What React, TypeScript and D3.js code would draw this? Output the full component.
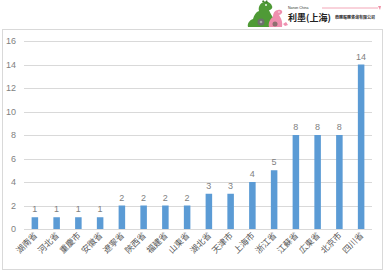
import React from "react";
import * as d3 from "d3";

const categories = ["湖南省","河北省","重慶市","安徽省","遼寧省","陝西省","福建省","山東省","湖北省","天津市","上海市","浙江省","江蘇省","広東省","北京市","四川省"];
const values = [1,1,1,1,2,2,2,2,3,3,4,5,8,8,8,14];
const yTicks = [0,2,4,6,8,10,12,14,16];

const W = 384, H = 271;
const plot = { left: 24, right: 372, top: 41, bottom: 229 };

export default function App() {
  const x = d3.scaleBand<string>().domain(categories).range([plot.left, plot.right]).paddingInner(0.7).paddingOuter(0.35);
  const y = d3.scaleLinear().domain([0, 16]).range([plot.bottom, plot.top]);
  const font = "'Noto Sans CJK JP', 'Noto Sans', sans-serif";
  return (
    <svg width={W} height={H} style={{ position: "absolute", left: 0, top: 0, background: "#fff" }}>
      <rect x={0} y={0} width={W} height={H} fill="#fff" />
      {/* logo */}
      <g>
        {/* green dino */}
        <path d="M248,27 C247,23 250,20 253,19 C254,15 256,12 259,11 C258,7 260,3 264,2 C268,1 271,3 272,6 C273,8 271,10 269,10 C270,13 272,16 274,19 C276,22 276,25 274,27 Z" fill="#4f9a36" />
        <path d="M262,2 L263,0 L265,2 L267,0 L268,3 Z" fill="#3e7f2a" />
        <circle cx={266} cy={5} r={0.9} fill="#fff" />
        <ellipse cx={261} cy={22} rx={3.5} ry={3.5} fill="#6e6e6e" />
        <circle cx={261} cy={22} r={1.3} fill="#aaa" />
        {/* pink dino */}
        <path d="M269,27 C268,23 270,19 273,17 C273,13 275,10 278,10 C281,9 283,11 282,13 C281,14 280,15 279,15 C281,18 283,22 282,27 Z" fill="#ee8fae" />
        <circle cx={279} cy={12} r={0.7} fill="#fff" />
        <ellipse cx={275} cy={24} rx={2.5} ry={2.5} fill="#8e7070" />
        <path d="M283,24 L286,22 L288,25 L285,26 Z" fill="#ee8fae" />
        <text x={288} y={8.5} fontSize={3.5} fill="#333" fontFamily="Arial, sans-serif">Nanon China</text>
        <line x1={322} y1={8} x2={378} y2={8} stroke="#f08fa5" strokeWidth={0.8} />
        <path d="M378,6 L381,6 L380,10 Z" fill="#f08fa5" />
        <text x={288} y={20.5} fontSize={9} fontWeight="bold" fill="#222" fontFamily={font}>利墨(上海)</text>
        <text x={335} y={18.5} fontSize={4} fontWeight="bold" fill="#333" fontFamily={font}>商務服務咨询有限公司</text>
      </g>
      {/* frame */}
      <rect x={2.5} y={29.5} width={380} height={240} fill="none" stroke="#d9d9d9" strokeWidth={1} />
      {/* grid */}
      {yTicks.map(t => (
        <g key={t}>
          <line x1={plot.left} x2={plot.right} y1={Math.round(y(t)) + 0.5} y2={Math.round(y(t)) + 0.5} stroke="#d9d9d9" strokeWidth={1} />
          <text x={16} y={y(t) + 3} textAnchor="end" fontSize={9} fill="#7f7f7f" fontFamily="'Liberation Sans', Arial, sans-serif">{t}</text>
        </g>
      ))}
      {/* bars */}
      {categories.map((c, i) => (
        <g key={c}>
          <rect x={x(c)!} y={y(values[i])} width={x.bandwidth()} height={y(0) - y(values[i])} fill="#5b9bd5" />
          <text x={x(c)! + x.bandwidth() / 2} y={y(values[i]) - 5} textAnchor="middle" fontSize={9} fill="#7f7f7f" fontFamily="'Liberation Sans', Arial, sans-serif">{values[i]}</text>
          <text transform={`translate(${x(c)! + x.bandwidth() / 2 + 3},${plot.bottom + 7}) rotate(-45)`} textAnchor="end" fontSize={8.5} fill="#595959" fontFamily={font}>{c}</text>
        </g>
      ))}
    </svg>
  );
}
